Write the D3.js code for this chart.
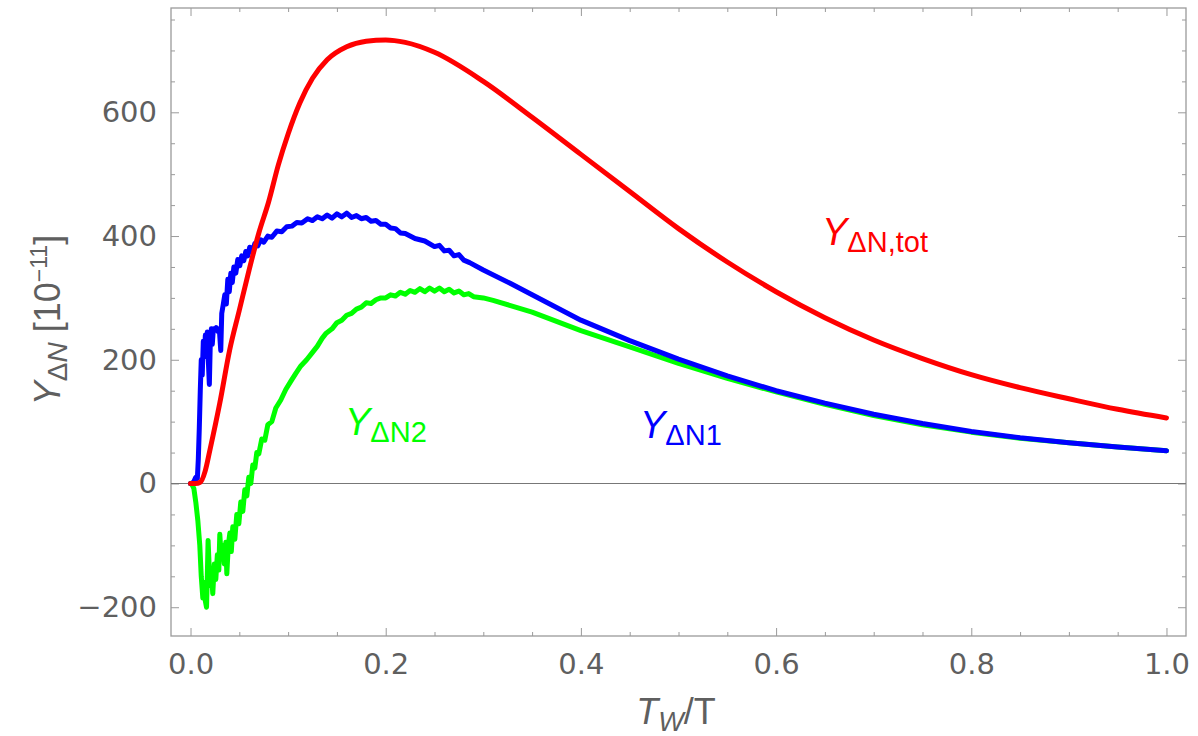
<!DOCTYPE html>
<html>
<head>
<meta charset="utf-8">
<script src="https://cdn.jsdelivr.net/npm/d3@7"></script>
<style>
  html, body { margin: 0; background: #fff; }
  svg { display: block; }
</style>
</head>
<body>
<svg id="chart" width="1198" height="736"></svg>
<script>
// Total asymmetry Y_ΔN,tot versus T_W/T
const totX = [0, 0.005, 0.01, 0.015, 0.02, 0.03, 0.04, 0.05, 0.06, 0.07, 0.08, 0.09, 0.1, 0.112, 0.125, 0.14, 0.16, 0.18, 0.2, 0.22, 0.25, 0.3, 0.35, 0.4, 0.45, 0.5, 0.55, 0.6, 0.65, 0.7, 0.75, 0.8, 0.85, 0.9, 0.95, 1.0];
const totY = [0, 0, 2, 20, 55, 130, 215, 280, 345, 405, 455, 515, 565, 615, 655, 685, 706, 715, 717, 713, 697, 650, 592, 532, 472, 412, 358, 310, 268, 232, 202, 176, 155, 137, 120, 106];

// Contribution Y_ΔN1 (Monte Carlo estimate, noisy at small T_W/T)
const n1X = [0, 0.001, 0.0034, 0.0054, 0.007, 0.008, 0.009, 0.010, 0.011, 0.012, 0.0131, 0.0141, 0.0152, 0.0162, 0.0172, 0.0182, 0.0193, 0.0203, 0.0213, 0.0223, 0.0234, 0.0249, 0.0264, 0.028, 0.0295, 0.031, 0.032, 0.0336, 0.0351, 0.0367, 0.0382, 0.0397, 0.0413, 0.0428, 0.0444, 0.0464, 0.0484, 0.0505, 0.0525, 0.0546, 0.0566, 0.0587, 0.0607, 0.0633, 0.0659, 0.0689, 0.072, 0.0751, 0.0792, 0.0833, 0.0884, 0.0935, 0.0986, 0.1038, 0.1089, 0.114, 0.12, 0.125, 0.13, 0.135, 0.14, 0.145, 0.15, 0.155, 0.16, 0.165, 0.17, 0.175, 0.18, 0.185, 0.19, 0.195, 0.2, 0.205, 0.21, 0.215, 0.22, 0.23, 0.24, 0.25, 0.255, 0.26, 0.265, 0.27, 0.275, 0.28, 0.286, 0.3, 0.327, 0.35, 0.4, 0.45, 0.5, 0.55, 0.6, 0.65, 0.7, 0.75, 0.8, 0.85, 0.9, 0.95, 1.0];
const n1Y = [0, 0, 3, 10, 8, 40, 90, 150, 200, 175, 230, 205, 240, 215, 245, 200, 160, 230, 250, 225, 250, 248, 252, 246, 250, 215, 275, 290, 305, 290, 330, 310, 340, 325, 350, 340, 362, 352, 368, 360, 375, 368, 382, 374, 388, 384, 394, 390, 400, 398, 408, 407, 415, 416, 422, 421, 428, 425, 431, 428, 434, 429, 436, 431, 437, 430, 433, 428, 430, 424, 425, 419, 419, 413, 412, 405, 404, 396, 392, 383, 385, 376, 377, 368, 370, 361, 357, 345, 324, 305, 264, 231, 201, 174, 150, 130, 112, 97, 84, 74, 66, 59, 53];

// Contribution Y_ΔN2 (Monte Carlo estimate, noisy at small T_W/T)
const n2X = [0, 0.001, 0.0034, 0.0054, 0.0075, 0.0095, 0.011, 0.0126, 0.0141, 0.0152, 0.0164, 0.0172, 0.018, 0.019, 0.0203, 0.0213, 0.0228, 0.0244, 0.0259, 0.0275, 0.029, 0.030, 0.0315, 0.0331, 0.0346, 0.0362, 0.0372, 0.0387, 0.0403, 0.0418, 0.0433, 0.0454, 0.0474, 0.0495, 0.0515, 0.0536, 0.0556, 0.0577, 0.0597, 0.0618, 0.0638, 0.0659, 0.0679, 0.07, 0.073, 0.0761, 0.0792, 0.0833, 0.0874, 0.0925, 0.0976, 0.1027, 0.1079, 0.113, 0.119, 0.125, 0.13, 0.135, 0.139, 0.145, 0.15, 0.155, 0.16, 0.165, 0.17, 0.175, 0.18, 0.185, 0.19, 0.195, 0.2, 0.205, 0.21, 0.215, 0.22, 0.225, 0.23, 0.235, 0.24, 0.245, 0.25, 0.255, 0.26, 0.265, 0.27, 0.275, 0.28, 0.285, 0.29, 0.3, 0.31, 0.327, 0.35, 0.4, 0.45, 0.5, 0.55, 0.6, 0.65, 0.7, 0.75, 0.8, 0.85, 0.9, 0.95, 1.0];
const n2Y = [0, 0, -8, -30, -60, -100, -150, -185, -160, -190, -200, -150, -92, -130, -165, -140, -178, -130, -155, -115, -140, -82, -120, -100, -130, -95, -146, -100, -80, -110, -70, -90, -50, -65, -30, -45, -10, -20, 10, 0, 30, 25, 50, 48, 72, 70, 95, 100, 122, 135, 152, 165, 178, 190, 200, 212, 222, 235, 243, 250, 260, 264, 272, 275, 282, 285, 292, 291, 297, 300, 300, 305, 303, 309, 306, 312, 309, 315, 310, 316, 311, 316, 310, 314, 308, 311, 305, 307, 302, 300, 296, 288, 277, 247, 221, 194, 170, 148, 128, 110, 95, 83, 73, 66, 59, 53];

const xMajor = [0, 0.2, 0.4, 0.6, 0.8, 1.0];
const xTickLabels = ["0.0", "0.2", "0.4", "0.6", "0.8", "1.0"];
const yMajor = [-200, 0, 200, 400, 600];
const yTickLabels = ["\u2212200", "0", "200", "400", "600"];

const frame = { left: 171, right: 1186, top: 8, bottom: 636 };

const x = d3.scaleLinear().domain([-0.02, 1.02]).range([frame.left, frame.right]);
const y = d3.scaleLinear().domain([-246.5, 768.6]).range([frame.bottom, frame.top]);

const svg = d3.select("#chart");
const tickColor = "#9a9a9a";
const labelColor = "#5f5f5f";
const tickFont = "'DejaVu Sans', sans-serif";
const textFont = "'Liberation Sans', Arial, sans-serif";

const xMinor = d3.range(0, 1.0001, 0.05).map(v => +v.toFixed(2)).filter(v => !xMajor.some(m => Math.abs(m - v) < 1e-9));
const yMinor = d3.range(-200, 751, 50).filter(v => !yMajor.includes(v));

function styleAxis(g) {
  g.select(".domain").remove();
  g.selectAll(".tick line").attr("stroke", tickColor).attr("stroke-width", 1);
  g.selectAll(".tick text").attr("fill", labelColor).attr("font-family", tickFont).attr("font-size", 29);
}

// bottom axis: labelled major ticks plus minor ticks
svg.append("g").attr("transform", `translate(0,${frame.bottom})`)
  .call(d3.axisBottom(x).tickValues(xMajor).tickFormat((d, i) => xTickLabels[i]).tickSizeInner(-8).tickSizeOuter(0).tickPadding(17))
  .call(styleAxis);
svg.append("g").attr("transform", `translate(0,${frame.bottom})`)
  .call(d3.axisBottom(x).tickValues(xMinor).tickFormat("").tickSizeInner(-4).tickSizeOuter(0))
  .call(styleAxis);
// top axis: ticks only
svg.append("g").attr("transform", `translate(0,${frame.top})`)
  .call(d3.axisTop(x).tickValues(xMajor).tickFormat("").tickSizeInner(-8).tickSizeOuter(0))
  .call(styleAxis);
svg.append("g").attr("transform", `translate(0,${frame.top})`)
  .call(d3.axisTop(x).tickValues(xMinor).tickFormat("").tickSizeInner(-4).tickSizeOuter(0))
  .call(styleAxis);

// left axis
svg.append("g").attr("transform", `translate(${frame.left},0)`)
  .call(d3.axisLeft(y).tickValues(yMajor).tickFormat((d, i) => yTickLabels[i]).tickSizeInner(-8).tickSizeOuter(0).tickPadding(14))
  .call(styleAxis);
svg.append("g").attr("transform", `translate(${frame.left},0)`)
  .call(d3.axisLeft(y).tickValues(yMinor).tickFormat("").tickSizeInner(-4).tickSizeOuter(0))
  .call(styleAxis);
// right axis: ticks only
svg.append("g").attr("transform", `translate(${frame.right},0)`)
  .call(d3.axisRight(y).tickValues(yMajor).tickFormat("").tickSizeInner(-8).tickSizeOuter(0))
  .call(styleAxis);
svg.append("g").attr("transform", `translate(${frame.right},0)`)
  .call(d3.axisRight(y).tickValues(yMinor).tickFormat("").tickSizeInner(-4).tickSizeOuter(0))
  .call(styleAxis);

// frame
svg.append("rect")
  .attr("x", frame.left).attr("y", frame.top)
  .attr("width", frame.right - frame.left).attr("height", frame.bottom - frame.top)
  .attr("fill", "none").attr("stroke", tickColor).attr("stroke-width", 1.3);

// zero line
svg.append("line")
  .attr("x1", frame.left).attr("x2", frame.right)
  .attr("y1", y(0)).attr("y2", y(0))
  .attr("stroke", "#777").attr("stroke-width", 1.1);

svg.append("clipPath").attr("id", "plotclip").append("rect")
  .attr("x", frame.left).attr("y", frame.top)
  .attr("width", frame.right - frame.left).attr("height", frame.bottom - frame.top);

const plot = svg.append("g").attr("clip-path", "url(#plotclip)");

function zip(xs, ys) { return xs.map((v, i) => [v, ys[i]]); }

const rough = d3.line().x(d => x(d[0])).y(d => y(d[1])).curve(d3.curveLinear);
const smooth = d3.line().x(d => x(d[0])).y(d => y(d[1])).curve(d3.curveMonotoneX);

const series = [
  { pts: zip(n2X, n2Y), color: "#00ff00", gen: rough },
  { pts: zip(n1X, n1Y), color: "#0000ff", gen: rough },
  { pts: zip(totX, totY), color: "#ff0000", gen: smooth }
];
series.forEach(s => {
  plot.append("path")
    .attr("d", s.gen(s.pts))
    .attr("fill", "none")
    .attr("stroke", s.color)
    .attr("stroke-width", 5)
    .attr("stroke-linejoin", "round")
    .attr("stroke-linecap", "round");
});

// curve annotations
function annot(px, py, color, sub) {
  const t = svg.append("text").attr("x", px).attr("y", py)
    .attr("fill", color).attr("font-family", textFont).attr("font-size", 38);
  t.append("tspan").attr("font-style", "italic").text("Y");
  t.append("tspan").attr("font-size", 29).attr("dy", 7).text(sub);
}
annot(822, 245, "#ff0000", "\u0394N,tot");
annot(345, 435, "#00ff00", "\u0394N2");
annot(640, 438, "#0000ff", "\u0394N1");

// x-axis title
const xt = svg.append("text").attr("x", 676).attr("y", 724)
  .attr("text-anchor", "middle").attr("fill", labelColor)
  .attr("font-family", textFont).attr("font-size", 36);
xt.append("tspan").attr("font-style", "italic").text("T");
xt.append("tspan").attr("font-style", "italic").attr("font-size", 27).attr("dy", 7).text("W");
xt.append("tspan").attr("dy", -7).text("/T");

// y-axis title
const yt = svg.append("text")
  .attr("transform", `translate(60,320) rotate(-90)`)
  .attr("text-anchor", "middle").attr("fill", labelColor)
  .attr("font-family", textFont).attr("font-size", 36);
yt.append("tspan").attr("font-style", "italic").text("Y");
yt.append("tspan").attr("font-size", 28).attr("dy", 7).text("\u0394");
yt.append("tspan").attr("font-size", 28).attr("font-style", "italic").text("N");
yt.append("tspan").attr("dy", -7).text(" [10");
yt.append("tspan").attr("font-size", 23).attr("dy", -13).text("\u221211");
yt.append("tspan").attr("dy", 13).text("]");
</script>
</body>
</html>
